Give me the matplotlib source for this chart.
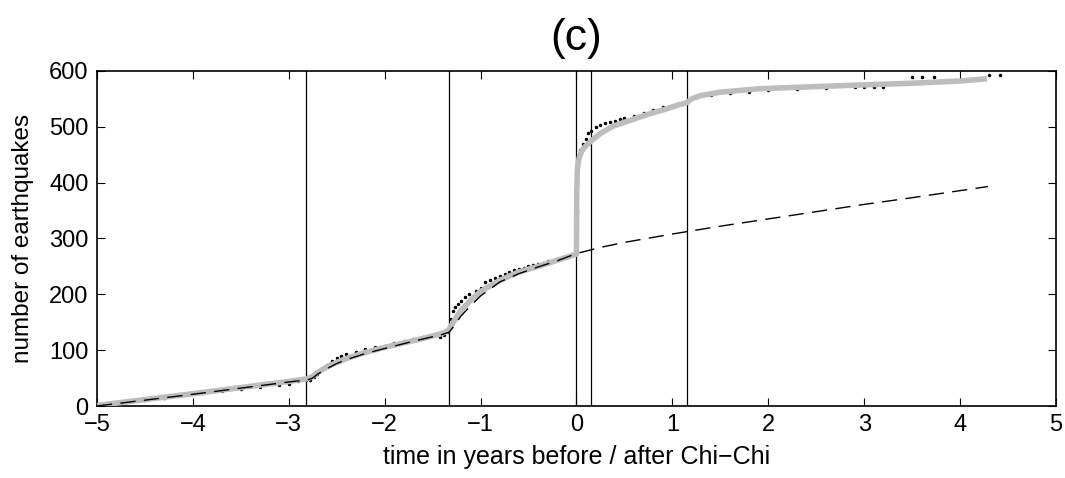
import matplotlib
matplotlib.use("Agg")
import matplotlib.pyplot as plt

plt.rcParams['font.family'] = ['Liberation Sans', 'DejaVu Sans']

# Observed earthquakes (cumulative count)
obs_t = [-5.0, -4.9, -4.7, -4.5, -4.3, -4.1, -3.9, -3.7, -3.5, -3.3, -3.1, -3.0, -2.9,
         -2.82, -2.78, -2.74, -2.7, -2.65, -2.6, -2.55, -2.5, -2.45, -2.4, -2.3, -2.2,
         -2.1, -2.0, -1.9, -1.8, -1.7, -1.6, -1.5, -1.42, -1.38, -1.34, -1.31, -1.29,
         -1.27, -1.24, -1.2, -1.16, -1.12, -1.05, -1.0, -0.95, -0.9, -0.85, -0.8, -0.75,
         -0.7, -0.65, -0.6, -0.55, -0.5, -0.45, -0.4, -0.35, -0.3, -0.2, -0.1, -0.02,
         0.0, 0.005, 0.01, 0.02, 0.04, 0.07, 0.1, 0.12, 0.15, 0.2, 0.25, 0.3, 0.35, 0.4,
         0.45, 0.5, 0.6, 0.7, 0.8, 0.9, 1.0, 1.1, 1.16, 1.25, 1.4, 1.6, 1.8, 2.0, 2.3,
         2.6, 2.9, 3.0, 3.1, 3.2, 3.4, 3.5, 3.6, 3.73, 3.9, 4.1, 4.3, 4.42]
obs_n = [1, 3, 7, 11, 15, 19, 23, 27, 31, 34, 38, 39, 44,
         47, 46, 52, 58, 66, 73, 80, 86, 90, 93, 97, 102,
         106, 108, 112, 116, 120, 124, 127, 124, 128, 133, 155, 170,
         178, 183, 188, 195, 200, 206, 212, 222, 226, 229, 233, 236,
         240, 244, 246, 248, 250, 252, 254, 256, 259, 263, 267, 272,
         275, 350, 420, 440, 458, 470, 478, 488, 493, 500, 503, 506, 508, 511,
         514, 516, 520, 524, 530, 535, 537, 540, 546, 553, 557, 560, 563, 565, 567,
         569, 572, 571, 571, 572, 578, 589, 589, 589, 582, 584, 592, 592]

# Model fit (grey)
fit_t = [-5.0, -4.0, -3.0, -2.8, -2.75, -2.7, -2.6, -2.5, -2.4, -2.2, -2.0, -1.8, -1.6,
         -1.4, -1.33, -1.3, -1.25, -1.2, -1.1, -1.0, -0.9, -0.8, -0.6, -0.4, -0.2, 0.0,
         0.003, 0.01, 0.03, 0.06, 0.1, 0.17, 0.25, 0.38, 0.5, 0.74, 0.9, 1.08, 1.15,
         1.2, 1.3, 1.5, 1.9, 2.5, 3.0, 3.5, 4.0, 4.28]
fit_n = [1, 22, 44, 49, 53, 60, 70, 78, 85, 96, 105, 113, 121,
         130, 136, 145, 160, 172, 190, 205, 215, 225, 240, 250, 261, 272,
         380, 425, 446, 458, 466, 477, 488, 501, 508, 522, 530, 540, 543,
         550, 556, 562, 568, 572, 575, 578, 582, 586]

# Model without Chi-Chi (dashed)
bg_t = [-5.0, -4.0, -3.0, -2.8, -2.75, -2.7, -2.6, -2.5, -2.4, -2.2, -2.0, -1.7, -1.4,
        -1.33, -1.3, -1.25, -1.2, -1.1, -1.0, -0.8, -0.6, -0.4, -0.2, 0.0, 0.25, 0.5,
        1.0, 1.5, 2.0, 2.5, 3.0, 3.5, 4.29]
bg_n = [0, 21, 43, 47, 50, 57, 67, 76, 83, 94, 103, 116, 128,
        132, 138, 150, 162, 180, 197, 222, 237, 249, 260, 273, 284, 293,
        308, 322, 335, 348, 361, 373, 393]

# main shocks / boundaries
vlines = [-2.815, -1.33, 0.0, 0.156, 1.15]

fig = plt.figure(figsize=(10.65, 4.78), dpi=100)
ax = fig.add_axes([0.091, 0.1506, 0.9005, 0.701])

for v in vlines:
    ax.axvline(v, color='black', lw=0.9, zorder=1)

ax.plot(obs_t, obs_n, 'k.', markersize=3, zorder=2)
ax.plot(fit_t, fit_n, color='#bdbdbd', lw=4, solid_capstyle='butt', zorder=3)
ax.plot(bg_t, bg_n, color='black', lw=1, dashes=(11, 6), zorder=4)

ax.set_xlim(-5, 5)
ax.set_ylim(0, 600)
ax.set_xticks(range(-5, 6))
ax.set_yticks(range(0, 601, 100))
ax.set_xticklabels([str(i).replace('-', '\u2212') for i in range(-5, 6)])
ax.tick_params(direction='in', top=True, right=True, length=6, width=0.8, labelsize=17, pad=6)
for s in ax.spines.values():
    s.set_linewidth(1.2)

ax.set_xlabel('time in years before / after Chi\u2212Chi', fontsize=18, labelpad=6)
ax.set_ylabel('number of earthquakes', fontsize=17.5, labelpad=11)
ax.set_title('(c)', fontsize=32, pad=15)

fig.savefig('out.png', dpi=100)
